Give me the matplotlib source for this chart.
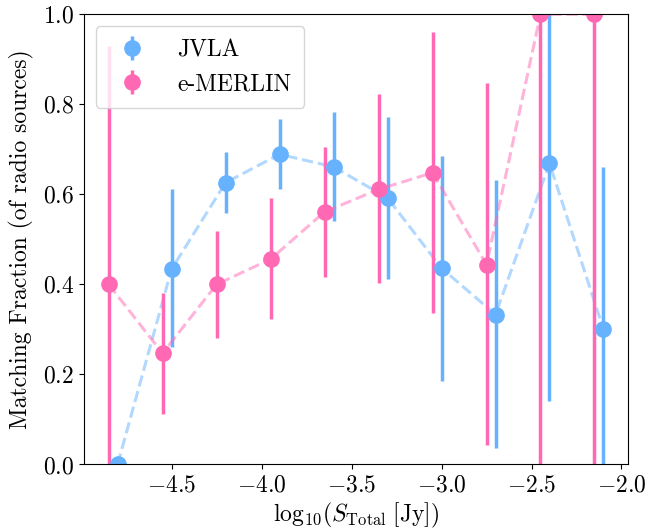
import matplotlib
matplotlib.use("Agg")
import matplotlib.pyplot as plt

plt.rcParams["font.family"] = "serif"
plt.rcParams["font.serif"] = ["cmr10", "DejaVu Serif"]
plt.rcParams["mathtext.fontset"] = "cm"
plt.rcParams["axes.formatter.use_mathtext"] = True
plt.rcParams["axes.unicode_minus"] = True

# JVLA
jvla_x = [-4.8, -4.5, -4.2, -3.9, -3.6, -3.3, -3.0, -2.7, -2.4, -2.1]
jvla_y = [0.0, 0.434, 0.626, 0.689, 0.661, 0.592, 0.436, 0.333, 0.669, 0.30]
jvla_lo = [0.0, 0.174, 0.068, 0.077, 0.120, 0.179, 0.251, 0.297, 0.528, 0.30]
jvla_hi = [0.0, 0.178, 0.067, 0.078, 0.121, 0.180, 0.249, 0.299, 0.331, 0.361]

# e-MERLIN
merlin_x = [-4.85, -4.55, -4.25, -3.95, -3.65, -3.35, -3.05, -2.75, -2.45, -2.15]
merlin_y = [0.40, 0.247, 0.40, 0.456, 0.561, 0.611, 0.648, 0.444, 1.0, 1.0]
merlin_lo = [0.40, 0.134, 0.118, 0.132, 0.144, 0.209, 0.311, 0.400, 1.0, 1.0]
merlin_hi = [0.53, 0.134, 0.119, 0.135, 0.145, 0.213, 0.312, 0.403, 0.0, 0.0]

blue = "#66b2ff"
pink = "#ff69b4"

fig = plt.figure(figsize=(6.45, 5.29), dpi=100)
ax = fig.add_axes([0.130, 0.122, 0.844, 0.851])

ax.errorbar(jvla_x, jvla_y, yerr=[jvla_lo, jvla_hi], fmt="o", color=blue,
            markersize=11, elinewidth=2.5, capsize=0, label="JVLA")
ax.plot(jvla_x, jvla_y, "--", color=blue, alpha=0.5, linewidth=2.2)
ax.errorbar(merlin_x, merlin_y, yerr=[merlin_lo, merlin_hi], fmt="o", color=pink,
            markersize=11, elinewidth=2.5, capsize=0, label="e-MERLIN")
ax.plot(merlin_x, merlin_y, "--", color=pink, alpha=0.5, linewidth=2.2)

ax.set_ylim(0, 1.0)
ax.set_xlabel(r"$\mathrm{log}_{10}(S_{\rm Total}\;[\rm Jy])$", fontsize=17, labelpad=3)
ax.set_ylabel("Matching Fraction (of radio sources)", fontsize=17, labelpad=6)
ax.tick_params(labelsize=17)
ax.legend(loc="upper left", fontsize=17, borderpad=0.55, labelspacing=0.5,
          handlelength=2.0, handletextpad=0.9)

fig.savefig("out.png", dpi=100)
